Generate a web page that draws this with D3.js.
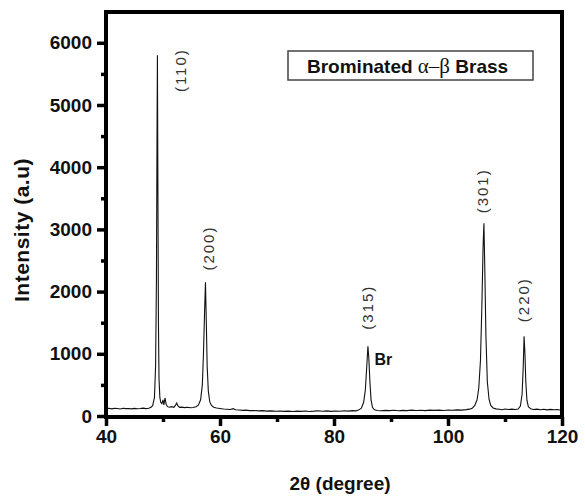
<!DOCTYPE html>
<html>
<head>
<meta charset="utf-8">
<script src="https://cdn.jsdelivr.net/npm/d3@7"></script>
<style>
  body { margin: 0; background: #fff; }
  text { font-family: "Liberation Sans", Arial, sans-serif; }
</style>
</head>
<body>
<div id="chart"></div>
<script>
// XRD pattern
var twoTheta = [40.0,40.5,41.0,41.5,42.0,42.5,43.0,43.5,44.0,44.5,45.0,45.5,46.0,46.5,47.0,47.5,47.9,48.2,48.5,48.7,
  48.85,48.95,49.02,49.1,49.2,49.3,49.45,49.6,49.8,50.0,50.15,50.35,50.55,50.8,51.1,51.5,51.9,52.2,52.4,52.6,
  52.9,53.3,53.8,54.3,54.8,55.3,55.8,56.2,56.6,56.9,57.1,57.3,57.45,57.6,57.75,57.95,58.2,58.5,58.9,59.4,
  60.0,60.6,61.2,61.8,62.3,62.7,63.3,64.0,64.6,65.2,66.0,66.8,67.5,68.2,69.0,69.8,70.5,71.2,72.0,72.8,
  73.5,74.2,75.0,75.7,76.5,77.2,78.0,78.8,79.5,80.2,81.0,81.8,82.5,83.2,83.8,84.3,84.8,85.2,85.5,85.75,
  85.95,86.1,86.3,86.5,86.75,87.1,87.6,88.2,89.0,89.8,90.5,91.3,92.0,92.8,93.6,94.4,95.2,96.0,96.8,97.6,
  98.4,99.2,100.0,100.8,101.6,102.4,103.2,103.8,104.3,104.7,105.1,105.4,105.7,105.95,106.15,106.3,106.45,106.65,106.9,107.2,
  107.5,107.9,108.4,109.0,109.5,110.0,110.6,111.2,111.8,112.3,112.7,113.0,113.2,113.35,113.5,113.65,113.85,114.1,114.5,115.0,
  115.6,116.2,116.8,117.4,118.0,118.6,119.2,119.6,120.0];
var intensity = [118,125,115,122,120,112,124,118,121,114,123,117,120,126,119,124,140,170,300,800,
  2200,4500,5800,3800,1500,600,300,220,200,260,180,290,190,150,140,150,140,175,210,165,
  138,142,135,140,132,138,150,175,260,500,1000,1700,2150,1500,800,400,230,170,140,128,
  120,112,108,104,118,100,96,90,95,86,88,82,86,78,82,76,80,74,78,72,
  79,74,80,73,78,84,76,82,74,80,76,84,78,86,82,95,125,220,420,800,
  1120,950,550,260,140,100,88,84,90,86,92,85,90,86,94,88,92,86,95,90,
  94,88,96,92,98,94,102,110,130,170,260,450,900,1800,2700,3100,2400,1300,550,270,
  170,130,115,108,100,112,105,110,104,112,160,350,800,1280,1000,550,250,150,115,105,
  110,100,108,98,106,100,104,96,100];

var peakLabels = ["(110)", "(200)", "(315)", "(301)", "(220)"];
var labelTheta = [53.0, 58.0, 85.8, 106.0, 113.3];
var labelInt = [5560, 2700, 1750, 3620, 1870];

var xTicks = [40, 60, 80, 100, 120];
var xMinor = [50, 70, 90, 110];
var yTicks = [0, 1000, 2000, 3000, 4000, 5000, 6000];
var yMinor = [500, 1500, 2500, 3500, 4500, 5500];

var margin = {top: 12, right: 23, bottom: 80, left: 106},
    width = 456,
    height = 405;

var svg = d3.select("#chart")
  .append("svg")
    .attr("width", 585)
    .attr("height", 497);

var g = svg.append("g")
    .attr("transform", "translate(" + margin.left + "," + margin.top + ")");

var x = d3.scaleLinear().domain([40, 120]).range([0, width]);
var y = d3.scaleLinear().domain([-16, 6495]).range([height, 0]);

g.append("clipPath").attr("id", "clip")
  .append("rect").attr("width", width).attr("height", height);

var data = twoTheta.map(function(t, i) { return {t: t, v: intensity[i]}; });

g.append("path")
  .datum(data)
  .attr("clip-path", "url(#clip)")
  .attr("fill", "none")
  .attr("stroke", "#111")
  .attr("stroke-width", 1.1)
  .attr("d", d3.line()
    .x(function(d) { return x(d.t); })
    .y(function(d) { return y(d.v); }));

// axes
g.append("g")
  .attr("transform", "translate(0," + height + ")")
  .call(d3.axisBottom(x).tickValues(xTicks).tickSize(9).tickPadding(4).tickFormat(d3.format("d")));
g.append("g")
  .attr("transform", "translate(0," + height + ")")
  .call(d3.axisBottom(x).tickValues(xMinor).tickSize(5).tickFormat(""));
g.append("g")
  .call(d3.axisLeft(y).tickValues(yTicks).tickSize(9).tickPadding(5).tickFormat(d3.format("d")));
g.append("g")
  .call(d3.axisLeft(y).tickValues(yMinor).tickSize(5).tickFormat(""));

g.selectAll(".domain").remove();
g.selectAll(".tick line")
  .style("stroke", "#000")
  .style("stroke-width", "3.5px");
g.selectAll(".tick text")
  .attr("fill", "#111")
  .style("font-size", "19px")
  .style("font-weight", "bold");

// thick frame, drawn as four lines
var frame = [[0, 0, width, 0], [width, 0, width, height], [0, height, width, height], [0, 0, 0, height]];
g.selectAll(".frame")
  .data(frame)
  .enter().append("line")
    .attr("class", "frame")
    .attr("x1", function(d) { return d[0]; })
    .attr("y1", function(d) { return d[1]; })
    .attr("x2", function(d) { return d[2]; })
    .attr("y2", function(d) { return d[3]; })
    .style("stroke", "#000")
    .style("stroke-width", "4px")
    .style("stroke-linecap", "square");

// peak labels
g.selectAll(".peak")
  .data(peakLabels)
  .enter().append("text")
    .attr("class", "peak")
    .attr("transform", function(d, i) {
      return "translate(" + x(labelTheta[i]) + "," + y(labelInt[i]) + ") rotate(-90)";
    })
    .attr("text-anchor", "middle")
    .attr("dominant-baseline", "central")
    .attr("fill", "#333")
    .style("font-size", "15px")
    .style("letter-spacing", "2px")
    .text(function(d) { return d; });

g.append("text")
  .attr("x", x(87.1))
  .attr("y", y(820))
  .style("font-size", "16px")
  .style("font-weight", "bold")
  .attr("fill", "#111")
  .text("Br");

// legend box
svg.append("rect")
  .attr("x", 288).attr("y", 51)
  .attr("width", 245).attr("height", 29)
  .attr("fill", "#fff")
  .attr("stroke", "#444")
  .attr("stroke-width", 1.5);
var lt = svg.append("text")
  .attr("x", 307).attr("y", 73)
  .attr("fill", "#111")
  .style("font-size", "19px")
  .style("font-weight", "bold");
lt.append("tspan").text("Brominated ");
lt.append("tspan").style("font-family", "'Liberation Serif', serif").style("font-weight", "normal").style("font-size", "21px").text("α–β");
lt.append("tspan").text(" Brass");

// axis titles
svg.append("text")
  .attr("transform", "translate(29,230) rotate(-90)")
  .attr("text-anchor", "middle")
  .attr("fill", "#111")
  .style("font-size", "21px")
  .style("font-weight", "bold")
  .style("letter-spacing", "0.5px")
  .text("Intensity (a.u)");

svg.append("text")
  .attr("x", 340).attr("y", 490)
  .attr("text-anchor", "middle")
  .attr("fill", "#111")
  .style("font-size", "19px")
  .style("font-weight", "bold")
  .text("2θ (degree)");
</script>
</body>
</html>
